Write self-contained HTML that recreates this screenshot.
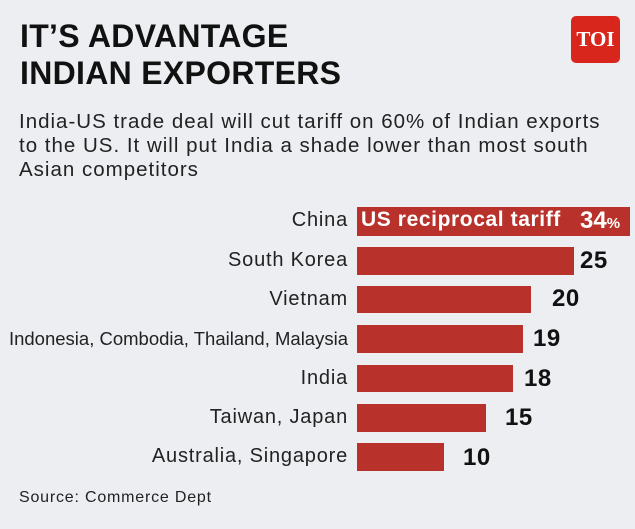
<!DOCTYPE html>
<html><head><style>
body{margin:0;width:635px;height:529px;background:#eceef2;font-family:"Liberation Sans",sans-serif;position:relative;overflow:hidden;color:#111}
.a{position:absolute;white-space:nowrap}
.t{left:20px;font-weight:bold;font-size:32px;letter-spacing:0.3px;color:#111}
.s{left:19px;font-size:20.5px;letter-spacing:1px;color:#222}
.l{right:287px;font-size:20px;letter-spacing:0.8px;color:#222;text-align:right}
.b{position:absolute;left:357px;background:#b8322b}
.n{font-weight:bold;font-size:24px;letter-spacing:0.5px;color:#111}
</style></head><body>
<div class="a t" style="top:18px">IT’S ADVANTAGE</div>
<div class="a t" style="top:55px">INDIAN EXPORTERS</div>
<div class="a" style="left:571px;top:16px;width:49px;height:47px;background:#d9261c;border-radius:5px;color:#fff;font-family:'Liberation Serif',serif;font-weight:bold;font-size:21px;text-align:center;line-height:47px">TOI</div>
<div class="a s" style="top:110px">India-US trade deal will cut tariff on 60% of Indian exports</div>
<div class="a s" style="top:134px">to the US. It will put India a shade lower than most south</div>
<div class="a s" style="top:158px">Asian competitors</div>

<div class="b" style="top:207px;width:273px;height:29px"></div>
<div class="a" style="left:361px;top:208px;color:#fff;font-weight:bold;font-size:21px;letter-spacing:0.6px">US reciprocal tariff</div>
<div class="a" style="left:580px;top:207px;color:#fff;font-weight:bold;font-size:24px">34<span style="font-size:15px">%</span></div>
<div class="b" style="top:247px;width:217px;height:28px"></div>
<div class="b" style="top:286px;width:174px;height:27px"></div>
<div class="b" style="top:325px;width:166px;height:28px"></div>
<div class="b" style="top:365px;width:156px;height:27px"></div>
<div class="b" style="top:404px;width:129px;height:28px"></div>
<div class="b" style="top:443px;width:87px;height:28px"></div>

<div class="a l" style="top:209px">China</div>
<div class="a l" style="top:249px">South Korea</div>
<div class="a l" style="top:288px">Vietnam</div>
<div class="a l" style="top:328px;font-size:18.5px;letter-spacing:0">Indonesia, Combodia, Thailand, Malaysia</div>
<div class="a l" style="top:367px">India</div>
<div class="a l" style="top:406px">Taiwan, Japan</div>
<div class="a l" style="top:445px">Australia, Singapore</div>

<div class="a n" style="left:580px;top:247px">25</div>
<div class="a n" style="left:552px;top:285px">20</div>
<div class="a n" style="left:533px;top:325px">19</div>
<div class="a n" style="left:524px;top:365px">18</div>
<div class="a n" style="left:505px;top:404px">15</div>
<div class="a n" style="left:463px;top:444px">10</div>

<div class="a" style="left:19px;top:489px;font-size:16px;letter-spacing:0.8px;color:#222">Source: Commerce Dept</div>
</body></html>
